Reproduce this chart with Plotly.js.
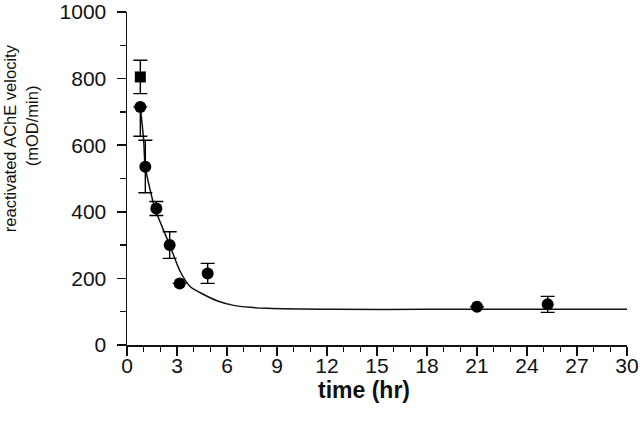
<!DOCTYPE html>
<html>
<head>
<meta charset="utf-8">
<script src="https://cdn.plot.ly/plotly-3.0.1.min.js"></script>
<style>
  html, body { margin: 0; padding: 0; background: #fff; }
  #chart { width: 640px; height: 427px; }
</style>
</head>
<body>
<div id="chart"></div>
<script>
// Fitted decay curve
const curveTime = [0.8, 1.0, 1.1, 1.7, 1.86, 2.6, 3.2, 3.8, 4.4, 5.4, 6.4, 7.4, 8.4, 10.4, 12.4, 18, 24, 30];
const curveVel  = [715, 615, 535, 405, 385, 295, 220, 175, 157, 133, 119, 113, 110, 108, 107, 107, 107, 107];

// Circle data points with error bars
const circleTime = [0.8, 1.1, 1.76, 2.56, 3.16, 4.84, 21.0, 25.24];
const circleVel  = [715, 535, 410, 300, 185, 215, 115, 122];
const circleErrUp   = [0, 80, 21, 40, 0, 30, 0, 24];
const circleErrDown = [88, 78, 21, 40, 0, 30, 0, 24];

// Square data point
const squareTime = [0.8];
const squareVel  = [805];
const squareErr  = [50];

const xTickVals = [0, 3, 6, 9, 12, 15, 18, 21, 24, 27, 30];
const yTickVals = [0, 200, 400, 600, 800, 1000];

const FONT = 'Liberation Sans, Arial, Helvetica, sans-serif';

const traces = [
  {
    x: curveTime, y: curveVel, type: 'scatter', mode: 'lines',
    line: { color: '#111', width: 1.5, shape: 'spline', smoothing: 0.8 },
    hoverinfo: 'skip', showlegend: false
  },
  {
    x: squareTime, y: squareVel, type: 'scatter', mode: 'markers',
    marker: { symbol: 'square', size: 11, color: '#000' },
    error_y: { type: 'data', array: squareErr, symmetric: true, color: '#000', thickness: 1.4, width: 7 },
    showlegend: false
  },
  {
    x: circleTime, y: circleVel, type: 'scatter', mode: 'markers',
    marker: { symbol: 'circle', size: 12, color: '#000' },
    error_y: { type: 'data', array: circleErrUp, arrayminus: circleErrDown, symmetric: false,
               color: '#000', thickness: 1.4, width: 7 },
    showlegend: false
  }
];

const layout = {
  width: 640, height: 427,
  margin: { l: 127, r: 13, t: 12, b: 82, pad: 0 },
  paper_bgcolor: '#fff', plot_bgcolor: '#fff',
  font: { family: FONT, color: '#000' },
  xaxis: {
    range: [0, 30], tickvals: xTickVals, ticktext: xTickVals.map(String),
    showgrid: false, zeroline: false, showline: true, linecolor: '#111', linewidth: 1.5,
    ticks: 'outside', ticklen: 9, tickwidth: 1.5, tickcolor: '#111',
    tickfont: { family: FONT, size: 21, color: '#111' }, ticklabelstandoff: -8,
    minor: { dtick: 1, ticks: 'outside', ticklen: 5, tickwidth: 1.3, tickcolor: '#111', showgrid: false },
    fixedrange: true
  },
  yaxis: {
    range: [0, 1000], tickvals: yTickVals, ticktext: yTickVals.map(String),
    showgrid: false, zeroline: false, showline: true, linecolor: '#111', linewidth: 1.5,
    ticks: 'outside', ticklen: 9, tickwidth: 1.5, tickcolor: '#111',
    tickfont: { family: FONT, size: 21, color: '#111' }, ticklabelstandoff: 6,
    minor: { dtick: 100, ticks: 'outside', ticklen: 6, tickwidth: 1.3, tickcolor: '#111', showgrid: false },
    fixedrange: true
  },
  annotations: [
    { text: 'reactivated AChE velocity', xref: 'paper', yref: 'paper',
      x: -0.234, y: 0.621, xanchor: 'center', yanchor: 'middle', textangle: -90,
      showarrow: false, font: { family: FONT, size: 16.5, color: '#111' } },
    { text: '(mOD/min)', xref: 'paper', yref: 'paper',
      x: -0.19, y: 0.657, xanchor: 'center', yanchor: 'middle', textangle: -90,
      showarrow: false, font: { family: FONT, size: 16.5, color: '#111' } },
    { text: '<b>time (hr)</b>', xref: 'paper', yref: 'paper',
      x: 0.474, y: -0.134, xanchor: 'center', yanchor: 'middle',
      showarrow: false, font: { family: FONT, size: 23, color: '#111' } }
  ]
};

Plotly.newPlot('chart', traces, layout, { staticPlot: true, displayModeBar: false });
</script>
</body>
</html>
